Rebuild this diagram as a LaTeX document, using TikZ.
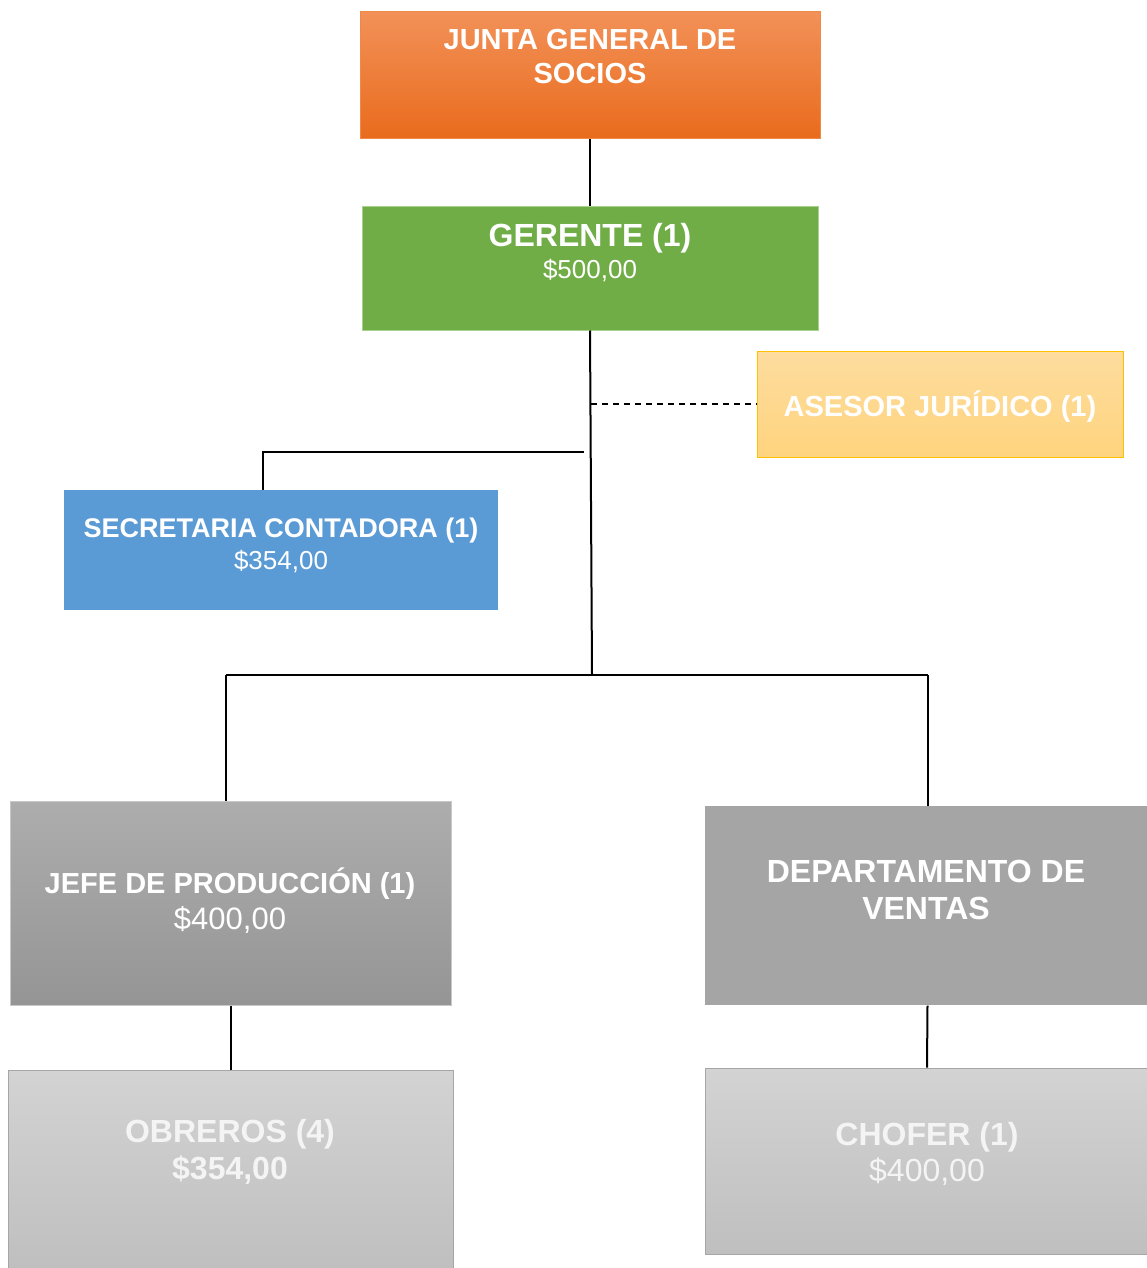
\documentclass[tikz,border=0pt]{standalone}
\usepackage{fontspec}
\setmainfont{Liberation Sans}
\definecolor{orT}{HTML}{F29158}
\definecolor{orB}{HTML}{E96B1C}
\definecolor{orD}{HTML}{F0884A}
\definecolor{grn}{HTML}{70AD47}
\definecolor{grnD}{HTML}{A9D18E}
\definecolor{ylT}{HTML}{FDDC9E}
\definecolor{ylB}{HTML}{FFD47E}
\definecolor{ylD}{HTML}{FFC000}
\definecolor{blu}{HTML}{5B9BD5}
\definecolor{g1T}{HTML}{ADADAD}
\definecolor{g1B}{HTML}{959595}
\definecolor{g1D}{HTML}{C8C8C8}
\definecolor{g2}{HTML}{A5A5A5}
\definecolor{g3T}{HTML}{D3D3D3}
\definecolor{g3B}{HTML}{BFBFBF}
\definecolor{g3D}{HTML}{A6A6A6}
\definecolor{pale}{HTML}{F4F4F4}
\begin{document}
\begin{tikzpicture}[x=1pt,y=-1pt,
  box/.style={rectangle, inner sep=0pt, line width=1pt},
  ttl/.style={text=white, font=\fontsize{#1}{#1}\selectfont\bfseries, anchor=base, inner sep=0pt},
  sub/.style={text=white, font=\fontsize{#1}{#1}\selectfont, anchor=base, inner sep=0pt},
  conn/.style={draw=black, line width=2pt},
  dconn/.style={draw=black, line width=2pt, dash pattern=on 6pt off 5pt}]
\useasboundingbox (0,0) rectangle (1147,1268);
\fill[white] (0,0) rectangle (1147,1268);

% boxes
\node[box, draw=orD, top color=orT, bottom color=orB, minimum width=460, minimum height=127] (junta) at (590,75.5) {};
\node[box, draw=grnD, fill=grn, minimum width=456, minimum height=124] (ger) at (590,268) {};
\node[box, draw=ylD, top color=ylT, bottom color=ylB, minimum width=366, minimum height=106] (ases) at (940,404) {};
\node[box, fill=blu, minimum width=434, minimum height=120] (sec) at (281,550) {};
\node[box, draw=g1D, top color=g1T, bottom color=g1B, minimum width=441, minimum height=204] (jefe) at (230.5,903) {};
\node[box, fill=g2, minimum width=445, minimum height=199] (depto) at (927.5,905.5) {};
\node[box, draw=g3D, top color=g3T, bottom color=g3B, minimum width=445, minimum height=200] (obr) at (230.5,1170) {};
\node[box, draw=g3D, top color=g3T, bottom color=g3B, minimum width=444, minimum height=186] (chof) at (927,1161) {};

% texts
\node[ttl=29] (junta1) at (590,50) {JUNTA GENERAL DE};
\node[ttl=29] (junta2) at (590,84) {SOCIOS};
\node[ttl=32] (ger1) at (590,246) {GERENTE (1)};
\node[sub=26] (ger2) at (590,278) {\$500,00};
\node[ttl=29] (ases1) at (940,416) {ASESOR JURÍDICO (1)};
\node[ttl=27] (sec1) at (281,537) {SECRETARIA CONTADORA (1)};
\node[sub=26] (sec2) at (281,569) {\$354,00};
\node[ttl=29] (jefe1) at (230,893) {JEFE DE PRODUCCIÓN (1)};
\node[sub=31] (jefe2) at (230,929) {\$400,00};
\node[ttl=32] (depto1) at (926,882) {DEPARTAMENTO DE};
\node[ttl=32] (depto2) at (926,919) {VENTAS};
\node[ttl=32, text=pale] (obr1) at (230,1142) {OBREROS (4)};
\node[ttl=32, text=pale] (obr2) at (230,1179) {\$354,00};
\node[ttl=32, text=pale] (chof1) at (927,1145) {CHOFER (1)};
\node[sub=32, text=pale] (chof2) at (927,1181) {\$400,00};

% connector points
\coordinate (hub) at (592,675);
\coordinate (dj) at (591,404);
\coordinate (s1) at (584,452);
\coordinate (s2) at (263,452);
\coordinate (bl) at (226,675);
\coordinate (br) at (928,675);

% connectors
\draw[conn] (junta.south) -- (ger.north);
\draw[conn] (ger.south) -- (hub);
\draw[dconn] (dj) -- (ases.west);
\draw[conn] (s1) -- (s2) -- (s2 |- sec.north);
\draw[conn] (bl) -- (br);
\draw[conn] (bl) -- (bl |- jefe.north);
\draw[conn] (br) -- (br |- depto.north);
\draw[conn] (jefe.south) -- (obr.north);
\draw[conn] (depto.south) -- (chof.north);
\end{tikzpicture}
\end{document}
